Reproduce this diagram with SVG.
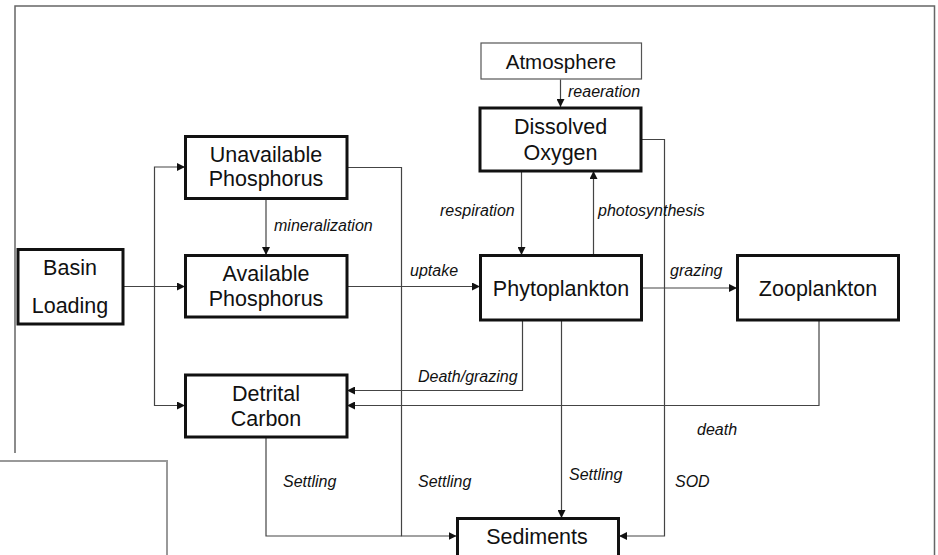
<svg xmlns="http://www.w3.org/2000/svg" width="938" height="555" viewBox="0 0 938 555">
<defs>
<marker id="ah" viewBox="0 0 10 10" refX="10" refY="5" markerWidth="8" markerHeight="8" markerUnits="userSpaceOnUse" orient="auto">
<path d="M0,0 L10,5 L0,10 z" fill="#111"/>
</marker>
<style>
.frame{fill:none;stroke:#666;stroke-width:1.5}
.node{fill:#fff;stroke:#111;stroke-width:3}
.thin{fill:#fff;stroke:#555;stroke-width:1.2}
.lbl{font-family:"Liberation Sans",Arial,sans-serif;font-size:21.5px;fill:#111;text-anchor:middle}
.edge{fill:none;stroke:#444;stroke-width:1.2}
.arr{marker-end:url(#ah)}
.el{font-family:"Liberation Sans",Arial,sans-serif;font-size:16px;font-style:italic;fill:#111}
</style>
</defs>
<rect width="938" height="555" fill="#fff"/>
<g id="frame">
<path class="frame" d="M15,453 V6 H934.5 V555"/>
<path d="M0,461 H167 V555" fill="none" stroke="#999" stroke-width="2"/>
</g>
<g id="connectors">
<path class="edge arr" d="M560.5,79.5 V107"/>
<path class="edge arr" d="M641,139.5 H664.5 V536 H619"/>
<path class="edge arr" d="M521.5,171 V255"/>
<path class="edge arr" d="M593.5,255 V171"/>
<path class="edge arr" d="M266,199 V255"/>
<path class="edge arr" d="M347,167.5 H401.5 V536 H456.5"/>
<path class="edge arr" d="M123,286.5 H185"/>
<path class="edge arr" d="M154.5,286.5 V167 H185"/>
<path class="edge arr" d="M154.5,286.5 V405.5 H185"/>
<path class="edge arr" d="M347,286.5 H480"/>
<path class="edge arr" d="M642,288 H737"/>
<path class="edge arr" d="M522.5,320 V390.5 H347"/>
<path class="edge arr" d="M819,320 V405.5 H347"/>
<path class="edge arr" d="M561.5,320 V518"/>
<path class="edge" d="M266,437 V536 H401.5"/>
<text class="el" x="568" y="97">reaeration</text>
<text class="el" x="440" y="216">respiration</text>
<text class="el" x="598" y="216">photosynthesis</text>
<text class="el" x="274" y="231">mineralization</text>
<text class="el" x="410" y="276">uptake</text>
<text class="el" x="670" y="276">grazing</text>
<text class="el" x="418" y="382">Death/grazing</text>
<text class="el" x="697" y="435">death</text>
<text class="el" x="283" y="487">Settling</text>
<text class="el" x="418" y="487">Settling</text>
<text class="el" x="569" y="480">Settling</text>
<text class="el" x="675" y="487">SOD</text>
</g>
<g id="atmosphere">
<rect class="thin" x="481" y="43" width="160.5" height="36"/>
<text class="lbl" x="561" y="68.5" style="font-size:20.5px">Atmosphere</text>
</g>
<g id="dissolved-oxygen">
<rect class="node" x="480" y="108" width="161" height="63"/>
<text class="lbl" x="560.5" y="133.5">Dissolved</text>
<text class="lbl" x="560.5" y="159.5">Oxygen</text>
</g>
<g id="unavailable-phosphorus">
<rect class="node" x="185.5" y="136.5" width="161.5" height="62"/>
<text class="lbl" x="266" y="161.5">Unavailable</text>
<text class="lbl" x="266" y="186">Phosphorus</text>
</g>
<g id="basin-loading">
<rect class="node" x="18" y="249.5" width="105" height="74.5"/>
<text class="lbl" x="70" y="274.5">Basin</text>
<text class="lbl" x="70" y="313">Loading</text>
</g>
<g id="available-phosphorus">
<rect class="node" x="185.5" y="255.5" width="161.5" height="61.5"/>
<text class="lbl" x="266" y="281">Available</text>
<text class="lbl" x="266" y="305.5">Phosphorus</text>
</g>
<g id="phytoplankton">
<rect class="node" x="480.5" y="255.5" width="161" height="64.5"/>
<text class="lbl" x="561" y="295.5">Phytoplankton</text>
</g>
<g id="zooplankton">
<rect class="node" x="737.5" y="255.5" width="161" height="64.5"/>
<text class="lbl" x="818" y="295.5">Zooplankton</text>
</g>
<g id="detrital-carbon">
<rect class="node" x="185.5" y="375" width="161.5" height="62"/>
<text class="lbl" x="266" y="401">Detrital</text>
<text class="lbl" x="266" y="425.5">Carbon</text>
</g>
<g id="sediments">
<rect class="node" x="457.5" y="518.5" width="161" height="45"/>
<text class="lbl" x="537" y="543.5">Sediments</text>
</g>
</svg>
